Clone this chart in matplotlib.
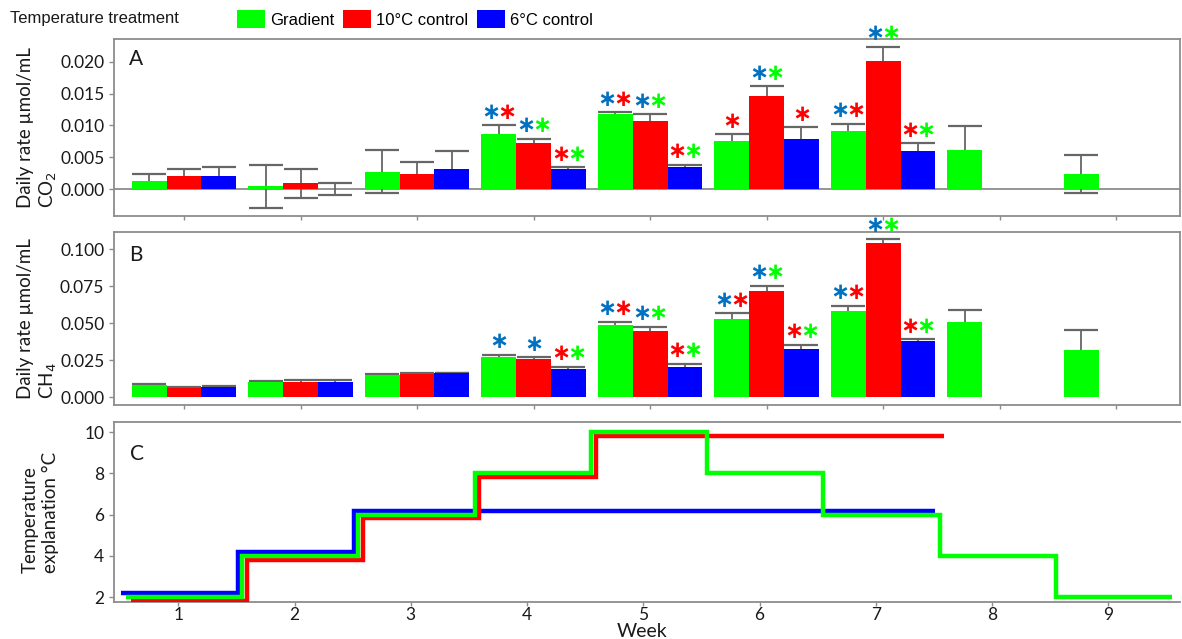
import numpy as np
import matplotlib
matplotlib.use("Agg")
import matplotlib.pyplot as plt
from matplotlib.patches import Patch

plt.rcParams['font.family'] = ['Lato', 'DejaVu Sans']

# ---------------- data ----------------
weeks = np.arange(1, 10)
week_labels = ["1", "2", "3", "4", "5", "6", "7", "8", "9"]

# Panel A: daily CO2 rate (umol/mL), mean and SE
co2_gradient = [0.0012, 0.0004, 0.0027, 0.0086, 0.0118, 0.0076, 0.0091, 0.0061, 0.0023]
co2_gradient_err = [0.0011, 0.0034, 0.0034, 0.0014, 0.0003, 0.0010, 0.0012, 0.0038, 0.0030]
co2_ctrl10 = [0.0020, 0.0009, 0.0023, 0.0072, 0.0107, 0.0147, 0.0201]
co2_ctrl10_err = [0.0012, 0.0023, 0.0019, 0.0007, 0.0011, 0.0015, 0.0023]
co2_ctrl6 = [0.0021, 0.0000, 0.0031, 0.0031, 0.0035, 0.0079, 0.0060]
co2_ctrl6_err = [0.0013, 0.0009, 0.0029, 0.0003, 0.0003, 0.0018, 0.0012]

# Panel B: daily CH4 rate (umol/mL), mean and SE
ch4_gradient = [0.0079, 0.0102, 0.0152, 0.0267, 0.0486, 0.0527, 0.0581, 0.0505, 0.0321]
ch4_gradient_err = [0.0011, 0.0004, 0.0006, 0.0018, 0.0023, 0.0039, 0.0037, 0.0081, 0.0131]
ch4_ctrl10 = [0.0061, 0.0102, 0.0154, 0.0256, 0.0448, 0.0717, 0.1041]
ch4_ctrl10_err = [0.0007, 0.0011, 0.0011, 0.0015, 0.0027, 0.0036, 0.0029]
ch4_ctrl6 = [0.0068, 0.0102, 0.0163, 0.0190, 0.0204, 0.0326, 0.0376]
ch4_ctrl6_err = [0.0004, 0.0011, 0.0002, 0.0016, 0.0022, 0.0027, 0.0015]

# Significant differences: g = vs gradient, r = vs 10°C control, b = vs 6°C control
co2_gradient_sig = ["", "", "", "br", "br", "r", "br", "", ""]
co2_ctrl10_sig = ["", "", "", "bg", "bg", "bg", "bg"]
co2_ctrl6_sig = ["", "", "", "rg", "rg", "r", "rg"]
ch4_gradient_sig = ["", "", "", "b", "br", "br", "br", "", ""]
ch4_ctrl10_sig = ["", "", "", "b", "bg", "bg", "bg"]
ch4_ctrl6_sig = ["", "", "", "rg", "rg", "rg", "rg"]

# Panel C: temperature programme (°C) per week
temp_gradient = [2, 4, 6, 8, 10, 8, 6, 4, 2]
temp_ctrl10 = [2, 4, 6, 8, 10, 10, 10]
temp_ctrl6 = [2, 4, 6, 6, 6, 6, 6]

treatments = ["Gradient", "10°C control", "6°C control"]

# ---------------- style ----------------
GREEN, RED, BLUE = "#00FF00", "#FF0000", "#0000FF"
STAR = {"g": "#00FF00", "r": "#FF0000", "b": "#0070C0"}
GRID = "#8c8c8c"
ERR = "#666666"
TXT = "#1a1a1a"

fig = plt.figure(figsize=(11.82, 6.39), dpi=100)
W, H = 1182.0, 639.0


def box(l, t, r, b):
    return [l / W, 1 - b / H, (r - l) / W, (b - t) / H]


axA = fig.add_axes(box(114, 39, 1180, 216))
axB = fig.add_axes(box(114, 232, 1180, 405))
axC = fig.add_axes(box(114, 422, 1180, 602))

BAR_W = 0.3
offsets = [-0.3, 0.0, 0.3]


def style_axes(ax):
    for s in ax.spines.values():
        s.set_color(GRID)
        s.set_linewidth(1.3)
    ax.tick_params(colors=GRID, labelcolor=TXT, length=3.5, width=1.0,
                   labelsize=12.5)
    ax.tick_params(axis="x", pad=0.5, length=3)


def bar_panel(ax, series):
    for (vals, errs, sigs, color), off in zip(series, offsets):
        x = weeks[:len(vals)] + off
        ax.errorbar(x, vals, yerr=errs, fmt="none", ecolor=ERR,
                    elinewidth=1.3, capsize=12.5, capthick=1.6, zorder=1)
        ax.bar(x, vals, width=BAR_W, color=color, zorder=2)
        for xi, v, e, s in zip(x, vals, errs, sigs):
            n = len(s)
            for i, c in enumerate(s):
                dx = (i - (n - 1) / 2.0) * 11.5
                ax.annotate("∗", xy=(xi, v + e), xytext=(dx, 1),
                            textcoords="offset points", ha="center",
                            va="bottom", color=STAR[c], fontsize=16.5,
                            fontweight="bold", family="DejaVu Sans",
                            annotation_clip=False, zorder=3)
    ax.set_xlim(0.399, 9.549)
    ax.set_xticks(weeks)
    ax.set_xticklabels([])
    style_axes(ax)


# Panel A
bar_panel(axA, [(co2_gradient, co2_gradient_err, co2_gradient_sig, GREEN),
                (co2_ctrl10, co2_ctrl10_err, co2_ctrl10_sig, RED),
                (co2_ctrl6, co2_ctrl6_err, co2_ctrl6_sig, BLUE)])
axA.axhline(0, color=GRID, lw=1.3, zorder=0.5)
axA.set_ylim(-0.00425, 0.02362)
axA.set_yticks([0.0, 0.005, 0.010, 0.015, 0.020])
axA.set_yticklabels(["0.000", "0.005", "0.010", "0.015", "0.020"])
axA.set_ylabel("Daily rate µmol/mL\nCO$_2$", fontsize=13.5,
               multialignment="left", color=TXT)
axA.yaxis.set_label_coords(-0.052, 0.5)
axA.text(0.0206, 0.887, "A", transform=axA.transAxes, fontsize=15,
         ha="center", va="center", color=TXT)

# Panel B
bar_panel(axB, [(ch4_gradient, ch4_gradient_err, ch4_gradient_sig, GREEN),
                (ch4_ctrl10, ch4_ctrl10_err, ch4_ctrl10_sig, RED),
                (ch4_ctrl6, ch4_ctrl6_err, ch4_ctrl6_sig, BLUE)])
axB.set_ylim(-0.0054, 0.1115)
axB.set_yticks([0.0, 0.025, 0.050, 0.075, 0.100])
axB.set_yticklabels(["0.000", "0.025", "0.050", "0.075", "0.100"])
axB.set_ylabel("Daily rate µmol/mL\nCH$_4$", fontsize=13.5,
               multialignment="left", color=TXT)
axB.yaxis.set_label_coords(-0.052, 0.5)
axB.text(0.0206, 0.867, "B", transform=axB.transAxes, fontsize=15,
         ha="center", va="center", color=TXT)

# Panel C: temperature steps, slightly shifted so overlapping lines stay visible
step_start = 0.55
for temps, color, dx, dy, z in [(temp_ctrl6, BLUE, -0.04, 0.18, 2),
                                (temp_ctrl10, RED, 0.04, -0.18, 3),
                                (temp_gradient, GREEN, 0.0, 0.0, 4)]:
    t = np.asarray(temps, dtype=float)
    edges = np.arange(len(t) + 1) + step_start + dx
    axC.stairs(t + dy, edges, baseline=None, color=color, lw=3.2, zorder=z)
axC.set_xlim(0.447, 9.617)
axC.set_ylim(1.76, 10.49)
axC.set_yticks([2, 4, 6, 8, 10])
axC.set_xticks(weeks)
axC.set_xticklabels(week_labels)
style_axes(axC)
axC.spines["right"].set_visible(False)
axC.set_xlabel("Week", fontsize=14, color=TXT)
axC.xaxis.set_label_coords(0.495, -0.118)
axC.set_ylabel("Temperature\nexplanation °C", fontsize=13.5,
               multialignment="left", color=TXT)
axC.yaxis.set_label_coords(-0.052, 0.5)
axC.text(0.0212, 0.822, "C", transform=axC.transAxes, fontsize=15,
         ha="center", va="center", color=TXT)

# Legend
fig.text(10 / W, 1 - 19 / H, "Temperature treatment", fontsize=12,
         family="Liberation Sans", va="center", ha="left", color=TXT)
handles = [Patch(facecolor=c, edgecolor="none") for c in (GREEN, RED, BLUE)]
fig.legend(handles, treatments, ncol=3, loc="center left",
           bbox_to_anchor=(237 / W, 1 - 19 / H), frameon=False,
           prop={"family": "Liberation Sans", "size": 12},
           handlelength=1.7, handleheight=1.25, handletextpad=0.3,
           columnspacing=0.5, borderpad=0, borderaxespad=0)

fig.savefig("out.png", dpi=100)
